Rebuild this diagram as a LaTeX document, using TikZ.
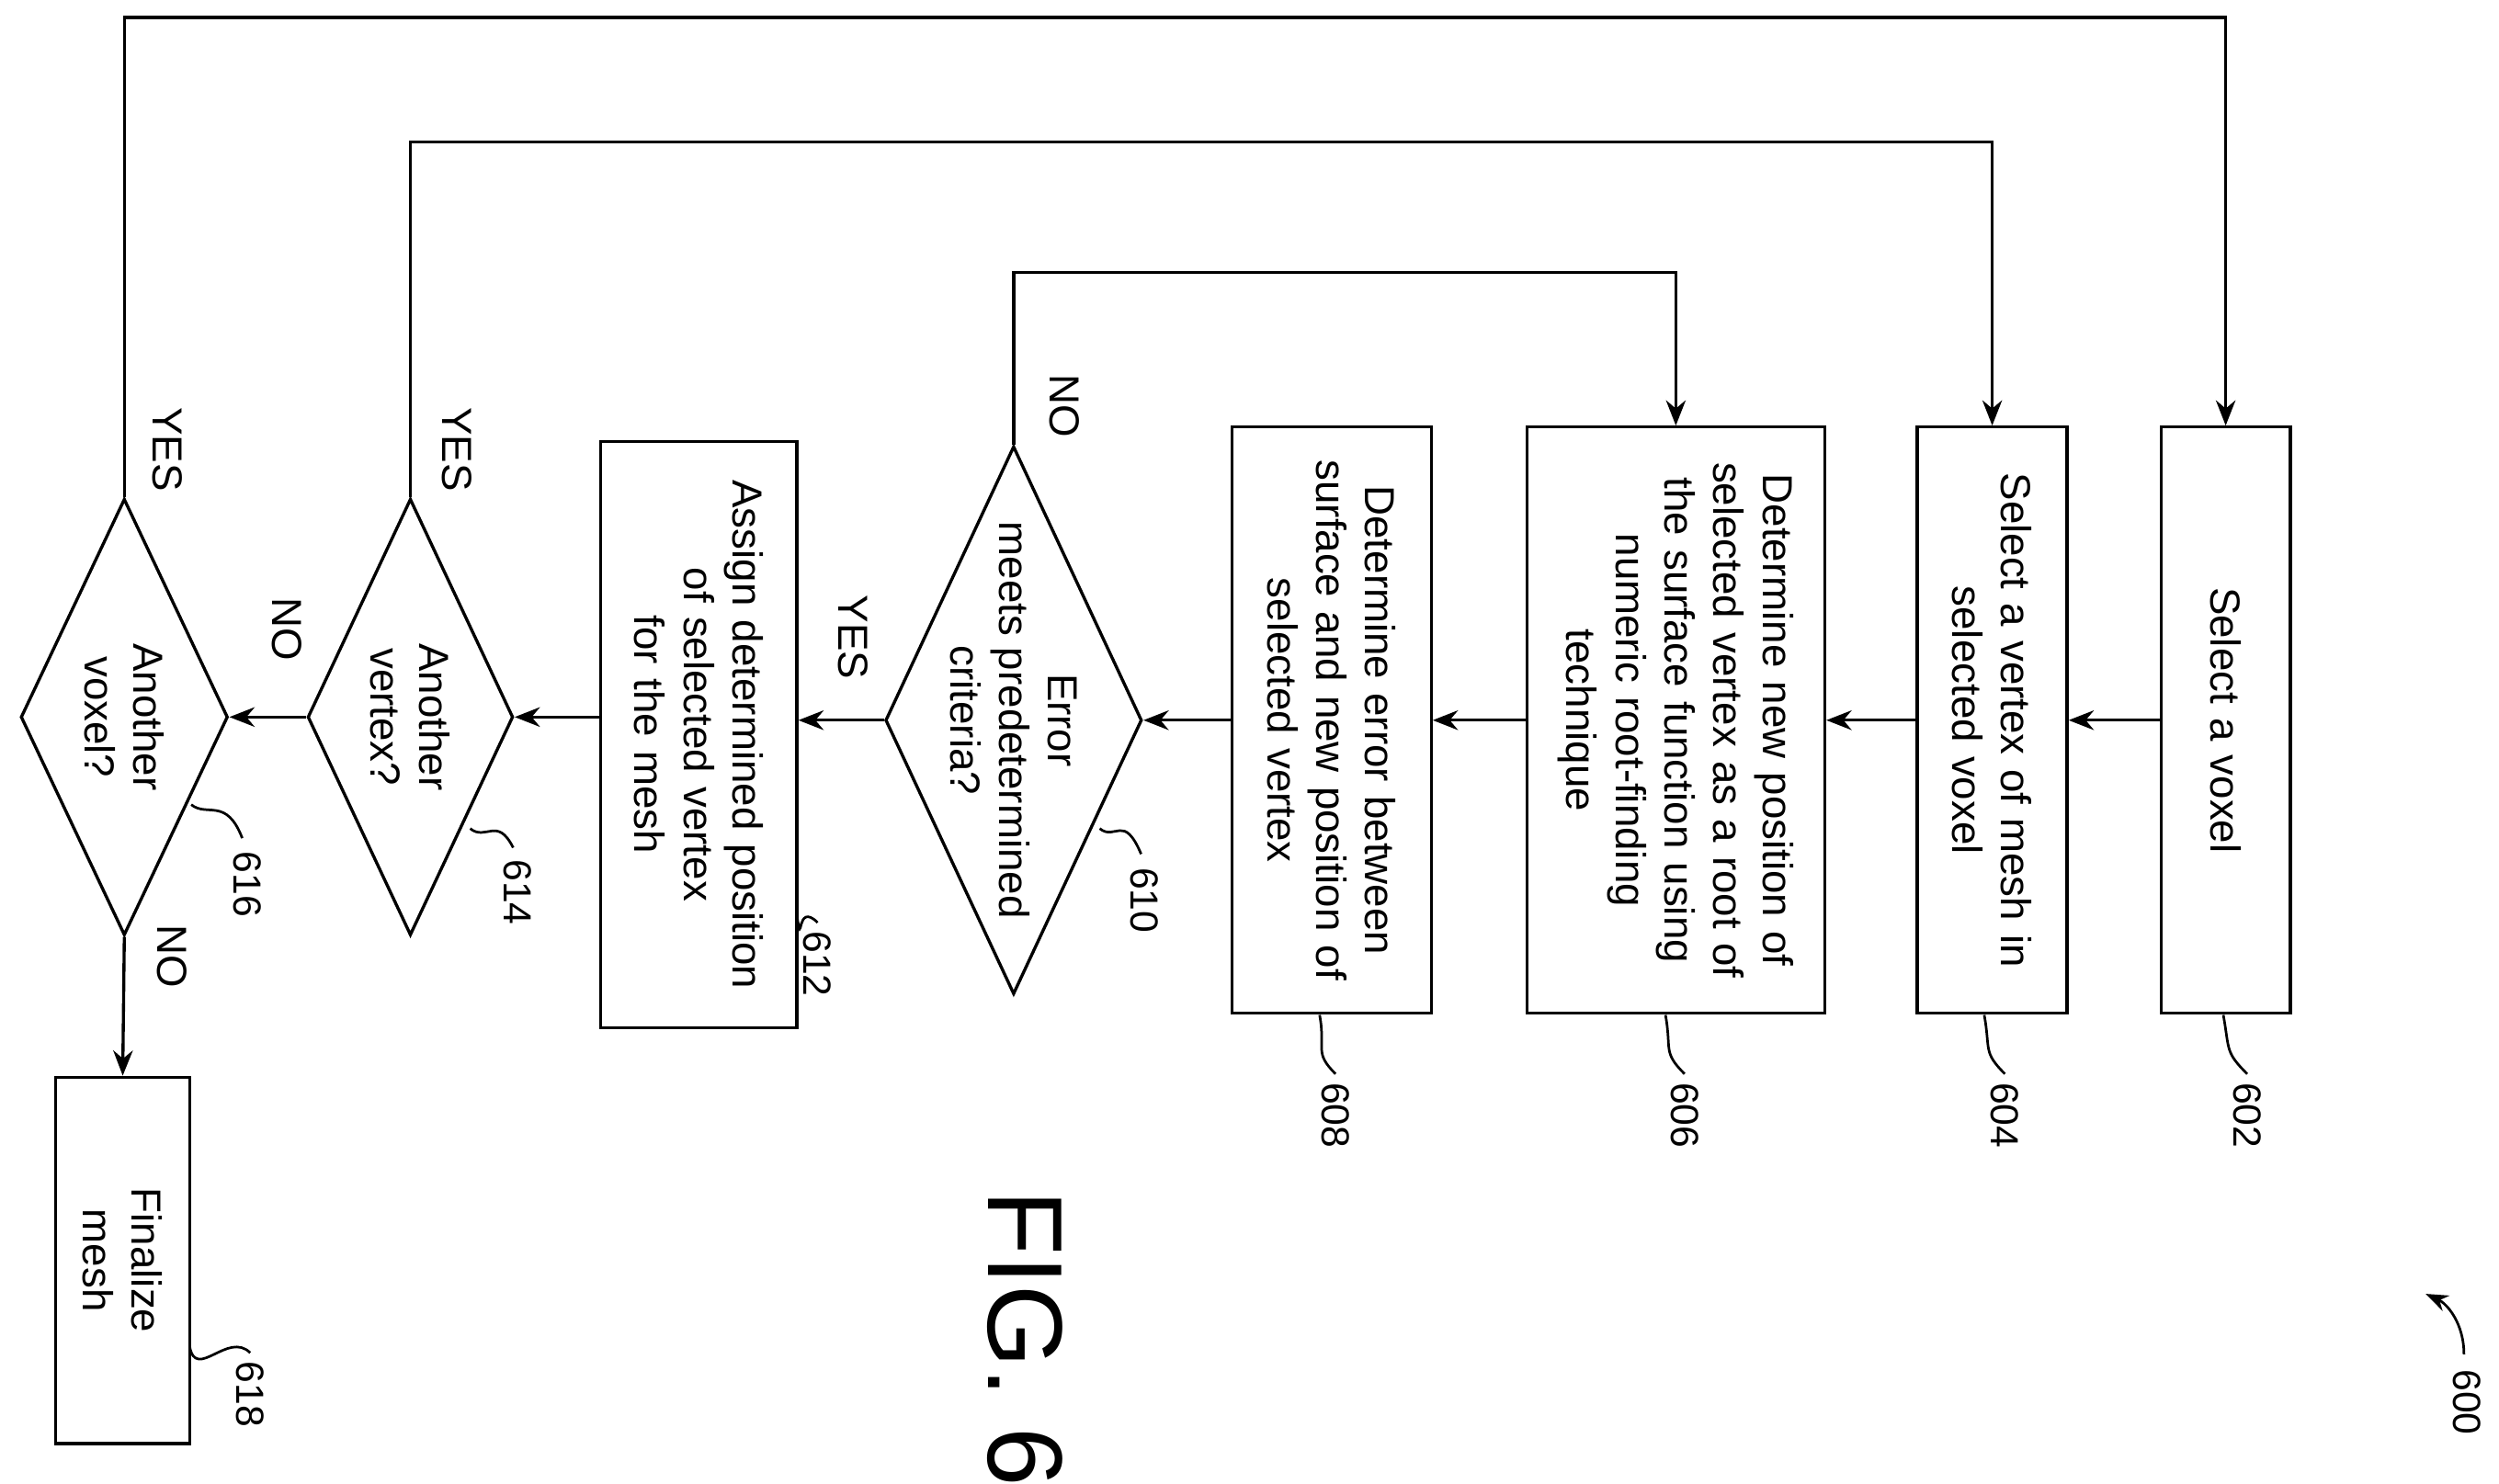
\documentclass[tikz,border=0pt]{standalone}
\usepackage{fontspec}
\setmainfont{Liberation Sans}
\usetikzlibrary{shapes.geometric,arrows.meta}
\begin{document}
\begin{tikzpicture}[x=0.02cm,y=-0.02cm,
  every node/.style={font=\fontsize{15}{17.5}\selectfont},
  box/.style={draw,rotate=-90,line width=1.1pt,align=center,inner sep=2pt,minimum width=7.36cm},
  dia/.style={draw,diamond,rotate=-90,line width=1.1pt,inner sep=0pt},
  dtext/.style={rotate=-90,align=center},
  ar/.style={line width=1.1pt,-{Stealth[length=9pt,width=7pt]}},
  lab/.style={rotate=-90},
  ref/.style={rotate=-90,font=\fontsize{14}{16}\selectfont}]
\useasboundingbox (0,0) rectangle (1568,930.8);
\node[box,minimum height=1.62cm,text width=7cm] (b602) at (1396.5,452) {Select a voxel};
\node[box,minimum height=1.88cm,text width=7cm] (b604) at (1250,452) {Select a vertex of mesh in\\selected voxel};
\node[box,minimum height=3.74cm,text width=7cm] (b606) at (1051.5,452) {Determine new position of\\selected vertex as a root of\\the surface function using\\numeric root-finding\\technique};
\node[box,minimum height=2.5cm,text width=7cm] (b608) at (835.5,452) {Determine error between\\surface and new position of\\selected vertex};
\node[dia,minimum width=6.88cm,minimum height=3.22cm] (d610) at (636,452) {};
\node[dtext] (t610) at (636,452) {Error\\meets predetermined\\criteria?};
\node[box,minimum height=2.46cm,text width=7cm] (b612) at (438.5,461) {Assign determined position\\of selected vertex\\for the mesh};
\node[dia,minimum width=5.48cm,minimum height=2.58cm] (d614) at (257.5,450) {};
\node[dtext] (t614) at (257.5,450) {Another\\vertex?};
\node[dia,minimum width=5.48cm,minimum height=2.6cm] (d616) at (78,450) {};
\node[dtext] (t616) at (78,450) {Another\\voxel?};
\node[box,minimum width=4.6cm,minimum height=1.68cm,text width=4cm] (b618) at (77,791) {Finalize\\mesh};
% main flow
\draw[ar] (b602.south) -- (b602.south -| b604.north);
\draw[ar] (b604.south) -- (b604.south -| b606.north);
\draw[ar] (b606.south) -- (b606.south -| b608.north);
\draw[ar] (b608.south) -- (b608.south -| d610.north);
\draw[ar] (d610.south) -- (d610.south -| b612.north);
\draw[ar] (b612.south |- d614.north) -- (d614.north);
\draw[ar] (d614.south) -- (d616.north);
\draw[ar] (d616.east) -- (b618.west);
% loops
\draw[ar] (d610.west) -- ++(0,-108) -| (b606.west);
\draw[ar] (d614.west) -- ++(0,-223) -| (b604.west);
\draw[ar] (d616.west) -- ++(0,-301) -| (b602.west);
% yes/no
\node[lab] (n1) at (668,255) {NO};
\node[lab] (n2) at (535,400) {YES};
\node[lab] (n3) at (287,282) {YES};
\node[lab] (n4) at (180,395) {NO};
\node[lab] (n5) at (105,282) {YES};
\node[lab] (n6) at (108,600) {NO};
% reference numerals
\foreach \n/\x/\y/\lx/\ly in {602/1395/637/1410/700, 604/1245/637/1258/700, 606/1045/637/1057/700, 608/828/637/838/700, 612/500/575/513/605, 618/119/845/157/875}{
  \node[ref] (r\n) at (\lx,\ly) {\n};
  \draw[line width=0.9pt] (\x,\y) .. controls (\x+4,\y+22) and (\lx-14,\ly-40) .. (\lx,\ly-26);
}
\node[ref] (r610) at (718,565) {610};
\draw[line width=0.9pt] (690,520) .. controls (700,528) and (705,510) .. (716,536);
\node[ref] (r614) at (325,560) {614};
\draw[line width=0.9pt] (295,520) .. controls (305,528) and (312,512) .. (322,532);
\node[ref] (r616) at (155,555) {616};
\draw[line width=0.9pt] (120,505) .. controls (130,513) and (142,500) .. (152,526);
\node[ref] (r600) at (1548,880) {600};
\coordinate (t600) at (1522,812);
\draw[line width=0.9pt,-{Stealth[length=8pt,width=6pt]}] (1546,850) .. controls (1546,830) and (1535,818) .. (t600);
\node[rotate=-90,font=\fontsize{38}{42}\selectfont] (fig) at (643,840) {FIG. 6};
\end{tikzpicture}
\end{document}
